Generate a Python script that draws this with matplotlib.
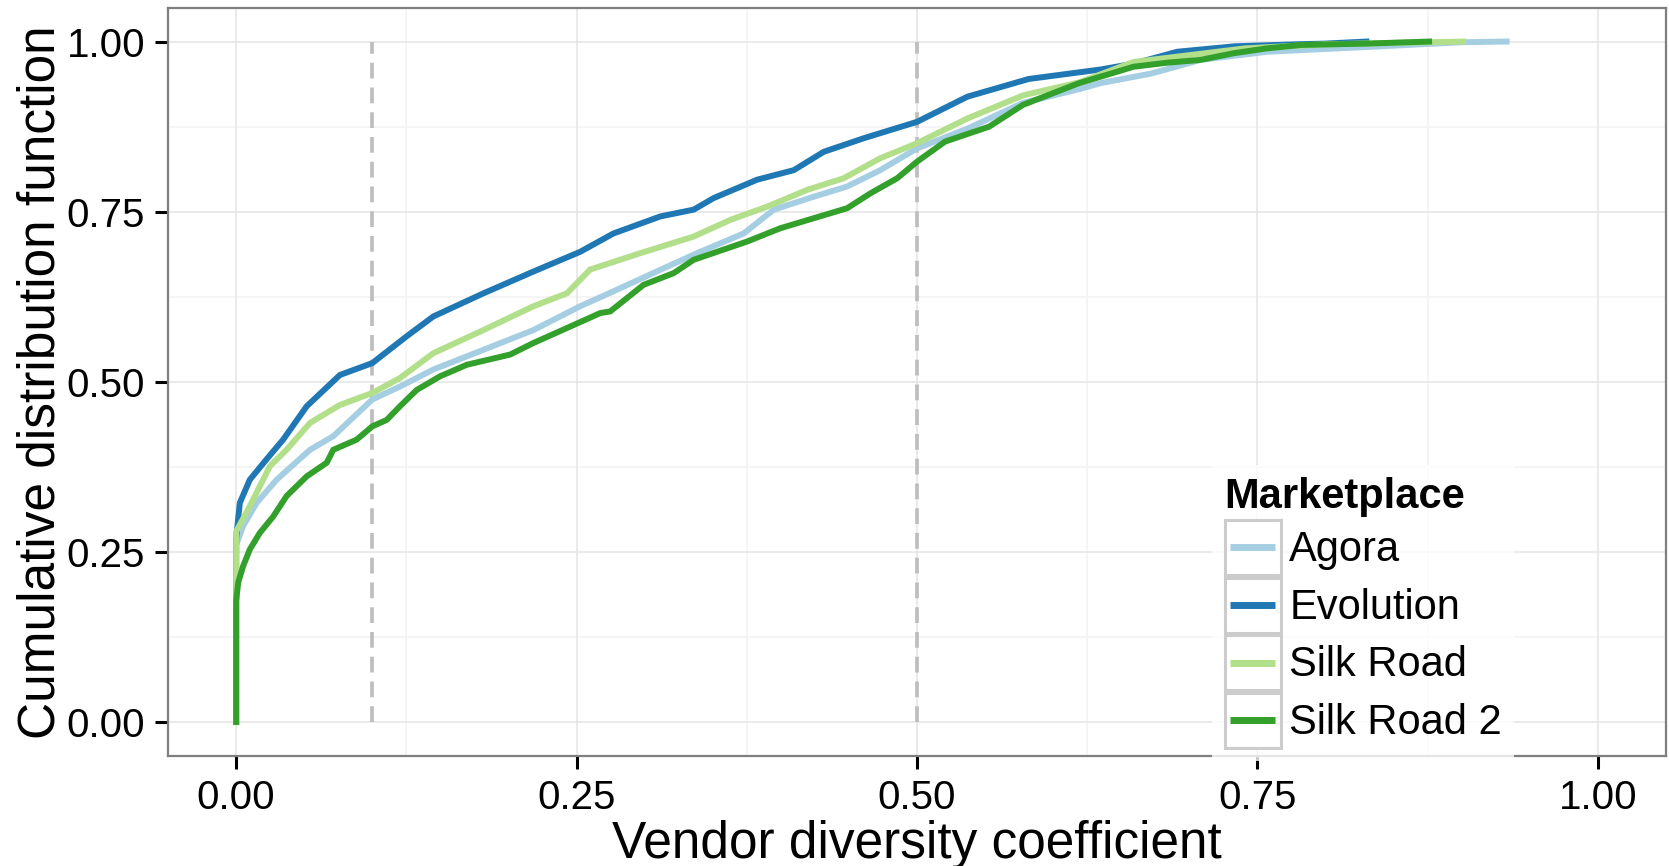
import matplotlib
matplotlib.use("Agg")
import matplotlib.pyplot as plt
from matplotlib.lines import Line2D
from matplotlib.patches import Rectangle

plt.rcParams["font.family"] = ["Liberation Sans", "DejaVu Sans"]

## Data (ECDF outlines) ##

agora_x = [0, 0, 0.0051, 0.015, 0.0297, 0.0542, 0.0713, 0.10, 0.1203, 0.1448, 0.1816,
           0.2183, 0.2526, 0.2771, 0.3066, 0.3384, 0.3727, 0.3948, 0.4242, 0.4487, 0.473,
           0.5, 0.537, 0.578, 0.619, 0.635, 0.672, 0.708, 0.757, 0.83, 0.90, 0.933]
agora_y = [0, 0.26, 0.288, 0.322, 0.356, 0.400, 0.420, 0.474, 0.493, 0.518, 0.547,
           0.576, 0.611, 0.633, 0.660, 0.689, 0.718, 0.753, 0.772, 0.787, 0.811,
           0.843, 0.872, 0.910, 0.930, 0.939, 0.953, 0.973, 0.985, 0.992, 0.999, 1.0]

evo_x = [0, 0, 0.0027, 0.010, 0.0223, 0.0345, 0.0518, 0.0762, 0.10, 0.1253, 0.1448, 0.1816,
         0.2183, 0.2526, 0.2771, 0.3115, 0.336, 0.3507, 0.3826, 0.4095, 0.4315, 0.461,
         0.5, 0.537, 0.582, 0.635, 0.659, 0.691, 0.733, 0.78, 0.80, 0.83]
evo_y = [0, 0.27, 0.322, 0.356, 0.386, 0.415, 0.464, 0.510, 0.5275, 0.567, 0.596, 0.630,
         0.662, 0.691, 0.718, 0.743, 0.753, 0.770, 0.797, 0.811, 0.838, 0.858,
         0.882, 0.919, 0.945, 0.959, 0.9675, 0.985, 0.993, 0.996, 0.997, 1.0]

sr_x = [0, 0, 0.010, 0.0248, 0.037, 0.0542, 0.0762, 0.10, 0.1203, 0.1448, 0.1816, 0.2183,
        0.2429, 0.26, 0.2968, 0.336, 0.363, 0.39, 0.4193, 0.446, 0.473, 0.5, 0.537,
        0.578, 0.619, 0.659, 0.70, 0.741, 0.80, 0.876, 0.901]
sr_y = [0, 0.28, 0.317, 0.376, 0.400, 0.4395, 0.466, 0.4835, 0.5055, 0.542, 0.576, 0.611,
        0.630, 0.665, 0.689, 0.7135, 0.738, 0.7575, 0.782, 0.799, 0.8285, 0.8506, 0.887,
        0.921, 0.940, 0.970, 0.980, 0.990, 0.996, 0.999, 1.0]

sr2_x = [0, 0, 0.0015, 0.0051, 0.010, 0.0174, 0.0272, 0.037, 0.0518, 0.0665, 0.0713, 0.0885,
         0.10, 0.1106, 0.1203, 0.1326, 0.1497, 0.1694, 0.2012, 0.2183, 0.2429, 0.2674,
         0.2747, 0.2992, 0.3213, 0.336, 0.3752, 0.3997, 0.4487, 0.4659, 0.4855, 0.5,
         0.5206, 0.553, 0.5778, 0.6186, 0.659, 0.684, 0.708, 0.733, 0.757, 0.782, 0.83, 0.876]
sr2_y = [0, 0.178, 0.205, 0.229, 0.2535, 0.278, 0.302, 0.332, 0.361, 0.381, 0.400, 0.415,
         0.4345, 0.444, 0.464, 0.488, 0.508, 0.525, 0.540, 0.557, 0.579, 0.601,
         0.6034, 0.6425, 0.6597, 0.6793, 0.7061, 0.7257, 0.7551, 0.7771, 0.7992, 0.8235,
         0.853, 0.875, 0.907, 0.9386, 0.963, 0.969, 0.973, 0.983, 0.990, 0.995, 0.997, 1.0]

markets = ["Agora", "Evolution", "Silk Road", "Silk Road 2"]
colors = ["#a6cee3", "#1f78b4", "#b2df8a", "#33a02c"]
series = [(agora_x, agora_y), (evo_x, evo_y), (sr_x, sr_y), (sr2_x, sr2_y)]

cutoffs = [0.1, 0.5]
ticks = [0.0, 0.25, 0.5, 0.75, 1.0]
minor = [0.125, 0.375, 0.625, 0.875]


class KeyBox:
    # ggplot-like legend key: grey bordered square with a short line inside
    def legend_artist(self, legend, orig_handle, fontsize, handlebox):
        x0, y0 = -handlebox.xdescent, -handlebox.ydescent
        w, h = handlebox.width, handlebox.height
        tr = handlebox.get_transform()
        rect = Rectangle((x0, y0), w, h, facecolor="white", edgecolor="#cccccc",
                         lw=2.2, transform=tr)
        line = Line2D([x0 + 0.1 * w, x0 + 0.9 * w], [y0 + h / 2, y0 + h / 2],
                      color=orig_handle.get_color(), lw=5.0, solid_capstyle="butt",
                      transform=tr)
        handlebox.add_artist(rect)
        handlebox.add_artist(line)
        return line


## Plot ##

fig = plt.figure(figsize=(16.69, 8.66), dpi=100)
ax = fig.add_axes([0.1007, 0.127, 0.8975, 0.8643])

ax.set_xlim(-0.05, 1.05)
ax.set_ylim(-0.05, 1.05)

# theme_bw-ish grid
for m in minor:
    ax.axvline(m, color="#f4f4f4", lw=1.2, zorder=0)
    ax.axhline(m, color="#f4f4f4", lw=1.2, zorder=0)
for t in ticks:
    ax.axvline(t, color="#e6e6e6", lw=1.2, zorder=0)
    ax.axhline(t, color="#e6e6e6", lw=1.2, zorder=0)

for c in cutoffs:
    ln, = ax.plot([c, c], [0, 1], color="#bebebe", lw=2.7, zorder=1)
    ln.set_dashes((4.2, 2.4))

handles = []
for (xs, ys), name, col in zip(series, markets, colors):
    ln, = ax.plot(xs, ys, color=col, lw=4.3, zorder=2, solid_joinstyle="miter")
    handles.append(ln)

ax.set_xticks(ticks)
ax.set_yticks(ticks)
ax.set_xticklabels(["0.00", "0.25", "0.50", "0.75", "1.00"])
ax.set_yticklabels(["0.00", "0.25", "0.50", "0.75", "1.00"])
ax.tick_params(axis="both", direction="out", length=9.5, width=2.2, color="black",
               labelsize=29, pad=7)

for sp in ax.spines.values():
    sp.set_color("#7f7f7f")
    sp.set_linewidth(1.6)

ax.set_xlabel("Vendor diversity coefficient", fontsize=37, labelpad=2)
ax.set_ylabel("Cumulative distribution function", fontsize=37, labelpad=1)

leg = ax.legend(handles, markets, handler_map={Line2D: KeyBox()},
                loc="lower left", bbox_to_anchor=(0.697, -0.006), borderaxespad=0,
                prop={"size": 30}, title="Marketplace",
                title_fontproperties={"weight": "bold", "size": 30},
                alignment="left", frameon=True, fancybox=False, borderpad=0.3,
                handlelength=1.35, handleheight=1.66, labelspacing=0.06, handletextpad=0.2)
leg.get_frame().set_facecolor("white")
leg.get_frame().set_edgecolor("none")
leg.set_zorder(5)

fig.savefig("out.png", dpi=100)
